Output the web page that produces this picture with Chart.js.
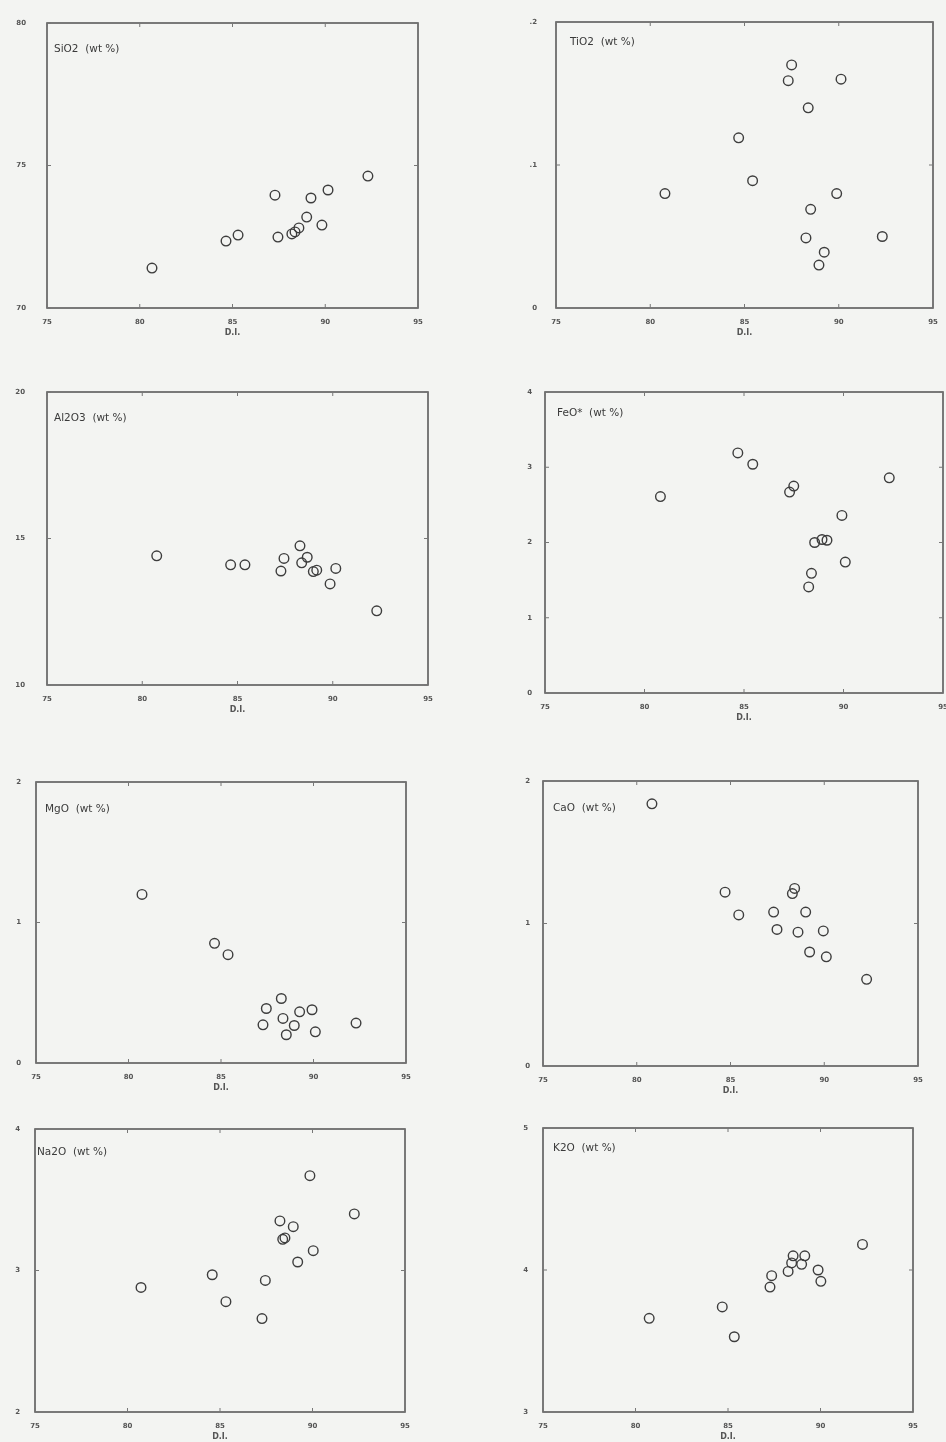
<!DOCTYPE html>
<html><head><meta charset="utf-8">
<script src="https://cdn.jsdelivr.net/npm/chart.js@4.4.1/dist/chart.umd.min.js"></script>
<style>
html,body{margin:0;padding:0;background:#f3f4f2;}
body{width:946px;height:1442px;position:relative;overflow:hidden;}
canvas{position:absolute;}
</style></head><body>
<script>
// ---- shared x axis (D.I.) ----
const xTicks = [75, 80, 85, 90, 95];
const xTickLabels = ['75', '80', '85', '90', '95'];

// ---- SiO2 ----
const diSiO2 = [80.66, 84.65, 85.3, 87.29, 87.45, 88.2, 88.37, 88.58, 89.0, 89.23, 89.82, 90.15, 92.3];
const siO2   = [71.4, 72.35, 72.56, 73.96, 72.49, 72.6, 72.67, 72.81, 73.19, 73.86, 72.91, 74.14, 74.63];
const yTicksSiO2 = [70, 75, 80];
const yLabelsSiO2 = ['70', '75', '80'];

// ---- TiO2 ----
const diTiO2 = [80.78, 84.69, 85.43, 87.32, 87.5, 88.26, 88.38, 88.51, 88.95, 89.23, 89.89, 90.12, 92.31];
const tiO2   = [0.080, 0.119, 0.089, 0.159, 0.170, 0.049, 0.140, 0.069, 0.030, 0.039, 0.080, 0.160, 0.050];
const yTicksTiO2 = [0, 0.1, 0.2];
const yLabelsTiO2 = ['0', '.1', '.2'];

// ---- Al2O3 ----
const diAl2O3 = [80.76, 84.64, 85.39, 87.28, 87.44, 88.28, 88.37, 88.66, 88.98, 89.16, 89.86, 90.16, 92.31];
const al2O3   = [14.41, 14.10, 14.10, 13.89, 14.32, 14.75, 14.17, 14.36, 13.87, 13.92, 13.45, 13.98, 12.53];
const yTicksAl2O3 = [10, 15, 20];
const yLabelsAl2O3 = ['10', '15', '20'];

// ---- FeO* ----
const diFeO = [80.8, 84.69, 85.44, 87.29, 87.5, 88.25, 88.39, 88.55, 88.92, 89.17, 89.92, 90.09, 92.3];
const feO   = [2.61, 3.19, 3.04, 2.67, 2.75, 1.41, 1.59, 2.00, 2.04, 2.03, 2.36, 1.74, 2.86];
const yTicksFeO = [0, 1, 2, 3, 4];
const yLabelsFeO = ['0', '1', '2', '3', '4'];

// ---- MgO ----
const diMgO = [80.73, 84.65, 85.38, 87.27, 87.45, 88.26, 88.35, 88.53, 88.96, 89.25, 89.92, 90.1, 92.3];
const mgO   = [1.20, 0.852, 0.771, 0.272, 0.388, 0.459, 0.317, 0.201, 0.267, 0.364, 0.379, 0.222, 0.284];
const yTicksMgO = [0, 1, 2];
const yLabelsMgO = ['0', '1', '2'];

// ---- CaO ----
const diCaO = [80.81, 84.71, 85.44, 87.3, 87.48, 88.3, 88.42, 88.6, 89.01, 89.22, 89.95, 90.11, 92.26];
const caO   = [1.84, 1.22, 1.06, 1.08, 0.958, 1.21, 1.246, 0.939, 1.08, 0.80, 0.948, 0.766, 0.608];
const yTicksCaO = [0, 1, 2];
const yLabelsCaO = ['0', '1', '2'];

// ---- Na2O ----
const diNa2O = [80.73, 84.58, 85.32, 87.27, 87.45, 88.24, 88.39, 88.51, 88.96, 89.2, 89.86, 90.04, 92.26];
const na2O   = [2.88, 2.97, 2.78, 2.66, 2.93, 3.35, 3.22, 3.23, 3.31, 3.06, 3.67, 3.14, 3.40];
const yTicksNa2O = [2, 3, 4];
const yLabelsNa2O = ['2', '3', '4'];

// ---- K2O ----
const diK2O = [80.74, 84.69, 85.34, 87.27, 87.36, 88.25, 88.44, 88.52, 88.98, 89.15, 89.87, 90.02, 92.27];
const k2O   = [3.66, 3.74, 3.53, 3.88, 3.96, 3.99, 4.05, 4.10, 4.04, 4.10, 4.00, 3.92, 4.18];
const yTicksK2O = [3, 4, 5];
const yLabelsK2O = ['3', '4', '5'];

// ---- layout (plot box L,T,R,B; label offset; y tick padding) ----
const panels = [
  {label:'SiO2  (wt %)',  xs:diSiO2,  ys:siO2,  yT:yTicksSiO2,  yL:yLabelsSiO2,  box:[47,23,418,308],   lab:[7,26], pad:21},
  {label:'TiO2  (wt %)',  xs:diTiO2,  ys:tiO2,  yT:yTicksTiO2,  yL:yLabelsTiO2,  box:[556,22,933,308],  lab:[14,20], pad:19},
  {label:'Al2O3  (wt %)', xs:diAl2O3, ys:al2O3, yT:yTicksAl2O3, yL:yLabelsAl2O3, box:[47,392,428,685],  lab:[7,26], pad:22},
  {label:'FeO*  (wt %)',  xs:diFeO,   ys:feO,   yT:yTicksFeO,   yL:yLabelsFeO,   box:[545,392,943,693], lab:[12,21], pad:13},
  {label:'MgO  (wt %)',   xs:diMgO,   ys:mgO,   yT:yTicksMgO,   yL:yLabelsMgO,   box:[36,782,406,1063], lab:[9,27], pad:15},
  {label:'CaO  (wt %)',   xs:diCaO,   ys:caO,   yT:yTicksCaO,   yL:yLabelsCaO,   box:[543,781,918,1066],lab:[10,27], pad:13},
  {label:'Na2O  (wt %)',  xs:diNa2O,  ys:na2O,  yT:yTicksNa2O,  yL:yLabelsNa2O,  box:[35,1129,405,1412],lab:[2,23], pad:15},
  {label:'K2O  (wt %)',   xs:diK2O,   ys:k2O,   yT:yTicksK2O,   yL:yLabelsK2O,   box:[543,1128,913,1412],lab:[10,20], pad:15}
];

const AXW = 45, AXH = 30, PT = 32, PR = 22;
const FONT = 'DejaVu Sans';

const framePlugin = {
  id: 'frame',
  afterDraw(chart, args, opts) {
    const {ctx, chartArea: a, scales: {x, y}} = chart;
    ctx.save();
    ctx.strokeStyle = '#5b5b5b';
    ctx.lineWidth = 1.6;
    ctx.strokeRect(a.left, a.top, a.right - a.left, a.bottom - a.top);
    ctx.lineWidth = 1;
    ctx.strokeStyle = '#777';
    const seg = (x1, y1, x2, y2) => { ctx.beginPath(); ctx.moveTo(x1, y1); ctx.lineTo(x2, y2); ctx.stroke(); };
    x.ticks.forEach(t => {
      const p = x.getPixelForValue(t.value);
      seg(p, a.bottom, p, a.bottom - 4);
      seg(p, a.top, p, a.top + 4);
    });
    y.ticks.forEach(t => {
      const p = y.getPixelForValue(t.value);
      seg(a.left, p, a.left + 4, p);
      seg(a.right, p, a.right - 4, p);
    });
    ctx.fillStyle = '#3a3a3a';
    ctx.font = '10.5px ' + FONT;
    ctx.textBaseline = 'middle';
    ctx.textAlign = 'left';
    ctx.fillText(opts.label, a.left + opts.dx, a.top + opts.dy);
    ctx.restore();
  }
};

panels.forEach(p => {
  const [L, T, R, B] = p.box;
  const cv = document.createElement('canvas');
  const w = (R - L) + AXW + PR, h = (B - T) + PT + AXH;
  cv.width = w; cv.height = h;
  cv.style.left = (L - AXW) + 'px';
  cv.style.top = (T - PT) + 'px';
  cv.style.width = w + 'px'; cv.style.height = h + 'px';
  document.body.appendChild(cv);
  const pts = p.xs.map((v, i) => ({x: v, y: p.ys[i]}));
  new Chart(cv, {
    type: 'scatter',
    data: {datasets: [{
      data: pts,
      pointStyle: 'circle',
      pointRadius: 4.8,
      pointBorderWidth: 1.4,
      pointBorderColor: '#3d3d3d',
      pointBackgroundColor: 'rgba(0,0,0,0)'
    }]},
    options: {
      responsive: false,
      animation: false,
      devicePixelRatio: 1,
      layout: {padding: {left: 0, top: PT, right: PR, bottom: 0}},
      plugins: {
        legend: {display: false},
        tooltip: {enabled: false},
        frame: {label: p.label, dx: p.lab[0], dy: p.lab[1]}
      },
      scales: {
        x: {
          type: 'linear', min: xTicks[0], max: xTicks[xTicks.length - 1],
          afterBuildTicks: s => { s.ticks = xTicks.map(v => ({value: v})); },
          afterFit: s => { s.height = AXH; },
          grid: {display: false, drawTicks: false},
          border: {display: false},
          ticks: {
            padding: 10, autoSkip: false, maxRotation: 0, color: '#555',
            font: {size: 7, family: FONT, weight: 'bold'},
            callback: (v, i) => xTickLabels[i]
          },
          title: {display: true, text: 'D.I.', color: '#555', padding: 0,
                  font: {size: 8, family: FONT, weight: 'bold'}}
        },
        y: {
          type: 'linear', min: p.yT[0], max: p.yT[p.yT.length - 1],
          afterBuildTicks: s => { s.ticks = p.yT.map(v => ({value: v})); },
          afterFit: s => { s.width = AXW; },
          grid: {display: false, drawTicks: false},
          border: {display: false},
          ticks: {
            padding: p.pad, autoSkip: false, color: '#555',
            font: {size: 7, family: FONT, weight: 'bold'},
            callback: (v, i) => p.yL[i]
          }
        }
      }
    },
    plugins: [framePlugin]
  });
});
</script>
</body></html>
